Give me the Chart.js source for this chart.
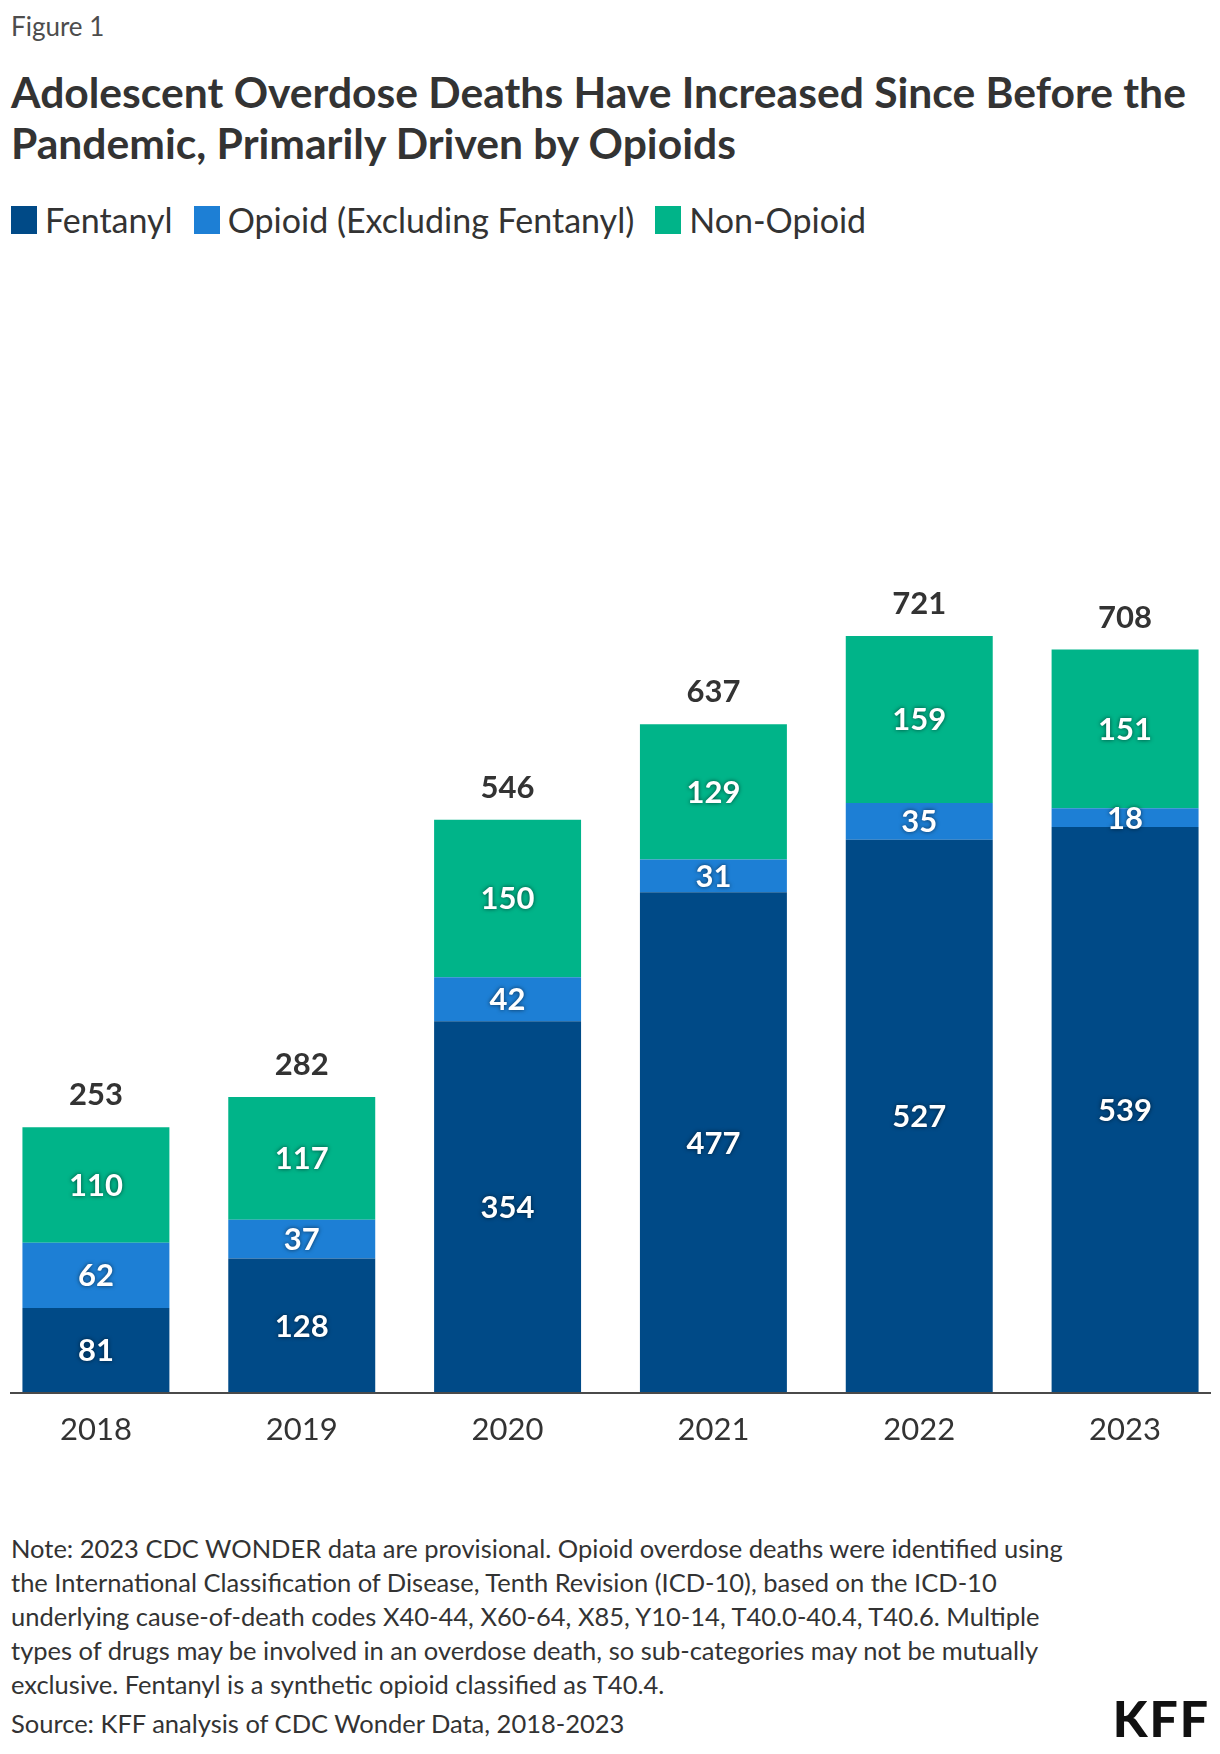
<!DOCTYPE html>
<html>
<head>
<meta charset="utf-8">
<title>Adolescent Overdose Deaths</title>
<script src="https://cdn.jsdelivr.net/npm/chart.js@4.4.1/dist/chart.umd.min.js"></script>
<style>
  body {
    margin: 0;
    width: 1220px;
    height: 1754px;
    overflow: hidden;
    position: relative;
    background: #fff;
    font-family: Lato, "Noto Sans", sans-serif;
    color: #333;
  }
  .fig { position: absolute; left: 11px; top: 11px; font-size: 26px; line-height: 30px; color: #4d4d4d; }
  .title { position: absolute; left: 11px; top: 66px; font-size: 42.6px; line-height: 51px; font-weight: 700; color: #333; }
  #legend { position: absolute; left: 11px; top: 203px; display: flex; font-size: 34px; line-height: 34px; }
  #legend .item { display: flex; align-items: center; margin-right: 21px; }
  #legend .box { width: 26px; height: 28px; margin-right: 8px; }
  #chart { position: absolute; left: -7px; top: 343px; }
  .note { position: absolute; left: 11px; top: 1531px; font-size: 25.5px; line-height: 34px; color: #333; }
  .source { position: absolute; left: 11px; top: 1706px; font-size: 25.5px; line-height: 34px; color: #333; }
  .logo { position: absolute; right: 10px; top: 1694px; font-size: 50px; line-height: 48px; font-weight: 900; color: #111; letter-spacing: 2px; }
</style>
</head>
<body>
<div class="fig">Figure 1</div>
<div class="title">Adolescent Overdose Deaths Have Increased Since Before the<br>Pandemic, Primarily Driven by Opioids</div>
<div id="legend"></div>
<canvas id="chart" width="1235" height="1137"></canvas>
<div class="note">Note: 2023 CDC WONDER data are provisional. Opioid overdose deaths were identified using<br>the International Classification of Disease, Tenth Revision (ICD-10), based on the ICD-10<br>underlying cause-of-death codes X40-44, X60-64, X85, Y10-14, T40.0-40.4, T40.6. Multiple<br>types of drugs may be involved in an overdose death, so sub-categories may not be mutually<br>exclusive. Fentanyl is a synthetic opioid classified as T40.4.</div>
<div class="source">Source: KFF analysis of CDC Wonder Data, 2018-2023</div>
<div class="logo">KFF</div>

<script>
(function () {
    const years = ['2018', '2019', '2020', '2021', '2022', '2023'];
    const fentanyl = [81, 128, 354, 477, 527, 539];
    const opioidExclFentanyl = [62, 37, 42, 31, 35, 18];
    const nonOpioid = [110, 117, 150, 129, 159, 151];

    const seriesNames = ['Fentanyl', 'Opioid (Excluding Fentanyl)', 'Non-Opioid'];
    const seriesColors = ['#004A87', '#1D7FD5', '#00B489'];

    const totals = years.map((y, i) => fentanyl[i] + opioidExclFentanyl[i] + nonOpioid[i]);

    // html legend
    const legend = document.getElementById('legend');
    seriesNames.forEach(function (name, i) {
        const item = document.createElement('div');
        item.className = 'item';
        item.innerHTML = '<span class="box" style="background:' + seriesColors[i] + '"></span><span>' + name + '</span>';
        legend.appendChild(item);
    });

    const labelPlugin = {
        id: 'barLabels',
        afterDatasetsDraw(chart) {
            const ctx = chart.ctx;
            const area = chart.chartArea;

            // baseline
            ctx.save();
            ctx.fillStyle = '#4a4a4a';
            ctx.fillRect(area.left + 17, area.bottom - 1, area.right - area.left - 34, 2);
            ctx.restore();

            ctx.save();
            ctx.textAlign = 'center';
            ctx.textBaseline = 'middle';
            ctx.font = 'bold 31px Lato, "Noto Sans", sans-serif';
            chart.data.datasets.forEach(function (ds, di) {
                const meta = chart.getDatasetMeta(di);
                meta.data.forEach(function (bar, i) {
                    ctx.shadowColor = 'rgba(0, 0, 0, 0.6)';
                    ctx.shadowBlur = 4;
                    ctx.fillStyle = '#fff';
                    ctx.fillText(String(ds.data[i]), bar.x, (bar.y + bar.base) / 2 + 1);
                });
            });
            ctx.shadowColor = 'transparent';
            ctx.shadowBlur = 0;
            ctx.textBaseline = 'alphabetic';
            ctx.fillStyle = '#333';
            const topMeta = chart.getDatasetMeta(chart.data.datasets.length - 1);
            topMeta.data.forEach(function (bar, i) {
                ctx.fillText(String(totals[i]), bar.x, bar.y - 22);
            });
            ctx.restore();
        }
    };

    const ctx = document.getElementById('chart');
    new Chart(ctx, {
        type: 'bar',
        data: {
            labels: years,
            datasets: [
                { label: seriesNames[0], data: fentanyl, backgroundColor: seriesColors[0] },
                { label: seriesNames[1], data: opioidExclFentanyl, backgroundColor: seriesColors[1] },
                { label: seriesNames[2], data: nonOpioid, backgroundColor: seriesColors[2] }
            ]
        },
        options: {
            responsive: false,
            animation: false,
            devicePixelRatio: 1,
            layout: { padding: 0 },
            datasets: {
                bar: { barPercentage: 0.714, categoryPercentage: 1, borderWidth: 0 }
            },
            plugins: {
                legend: { display: false },
                tooltip: { enabled: false }
            },
            scales: {
                x: {
                    stacked: true,
                    offset: true,
                    grid: { display: false, drawTicks: false },
                    border: { display: false },
                    ticks: {
                        padding: 18,
                        color: '#333',
                        font: { family: 'Lato, "Noto Sans", sans-serif', size: 31 }
                    },
                    afterFit: function (scale) { scale.height = 87; }
                },
                y: {
                    stacked: true,
                    display: false,
                    min: 0,
                    max: 1000
                }
            }
        },
        plugins: [labelPlugin]
    });
})();
</script>
</body>
</html>
